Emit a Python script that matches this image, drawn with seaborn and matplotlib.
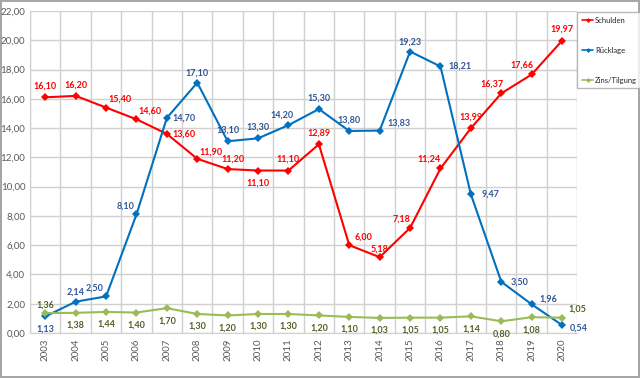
import matplotlib
matplotlib.use('Agg')
import matplotlib.pyplot as plt
import matplotlib.ticker as mticker
import seaborn as sns
import pandas as pd

years = [str(y) for y in range(2003, 2021)]
schulden = [16.10, 16.20, 15.40, 14.60, 13.60, 11.90, 11.20, 11.10, 11.10, 12.89,
            6.00, 5.18, 7.18, 11.24, 13.99, 16.37, 17.66, 19.97]
ruecklage = [1.13, 2.14, 2.50, 8.10, 14.70, 17.10, 13.10, 13.30, 14.20, 15.30,
             13.80, 13.83, 19.23, 18.21, 9.47, 3.50, 1.96, 0.54]
zins = [1.36, 1.38, 1.44, 1.40, 1.70, 1.30, 1.20, 1.30, 1.30, 1.20,
        1.10, 1.03, 1.05, 1.05, 1.14, 0.80, 1.08, 1.05]
series_names = ['Schulden', 'Rücklage', 'Zins/Tilgung']

# label placement per point (pixel offsets)
off_schulden = [(0, 8), (0, 8), (10, 6), (10, 6), (12, 0), (10, 5), (4, 7), (0, -9), (0, 8), (0, 8),
                (10, 6), (0, 6), (-6, 6), (-8, 7), (0, 8), (-7, 7), (-7, 7), (0, 8)]
off_ruecklage = [(0, -9), (0, 7), (-8, 6), (-8, 6), (12, 0), (0, 7), (0, 8), (0, 8), (-5, 7), (0, 8),
                 (0, 8), (14, 5), (0, 7), (14, 0), (14, 0), (13, 0), (12, 4), (12, -2)]
off_zins = [(0, 6), (0, -9), (0, -9), (0, -9), (0, -9), (0, -9), (0, -9), (0, -9), (0, -9), (0, -9),
            (0, -9), (0, -9), (0, -9), (0, -9), (0, -9), (0, -9), (0, -9), (11, 6)]

df = pd.DataFrame({
    'Jahr': years * 3,
    'Wert': schulden + ruecklage + zins,
    'Reihe': [series_names[0]] * 18 + [series_names[1]] * 18 + [series_names[2]] * 18,
})

sns.set_style('white')
plt.rcParams['font.family'] = ['Lato', 'DejaVu Sans']

line_colors = {'Schulden': '#FF0000', 'Rücklage': '#0070C0', 'Zins/Tilgung': '#9BBB59'}
label_colors = {'Schulden': '#FF0000', 'Rücklage': '#2F5597', 'Zins/Tilgung': '#4F6228'}

fig = plt.figure(figsize=(6.4, 3.78), dpi=100)
fig.patch.set_edgecolor('#A6A6A6')
fig.patch.set_linewidth(1.5)
ax = fig.add_axes([0.047, 0.119, 0.855, 0.852])

sns.lineplot(data=df, x='Jahr', y='Wert', hue='Reihe', palette=line_colors,
             marker='D', markersize=4, markeredgewidth=0, linewidth=1.5,
             sort=False, legend=False, ax=ax)

for name, vals, offs in [('Zins/Tilgung', zins, off_zins),
                         ('Rücklage', ruecklage, off_ruecklage),
                         ('Schulden', schulden, off_schulden)]:
    for i, (v, o) in enumerate(zip(vals, offs)):
        ax.annotate(f'{v:.2f}'.replace('.', ','), (i, v), xytext=o,
                    textcoords='offset points', ha='center', va='center',
                    fontsize=6.5, fontweight='bold', color=label_colors[name])

ax.set_xlim(-0.5, 17.5)
ax.set_ylim(0, 22)
ax.set_yticks(range(0, 23, 2))
ax.yaxis.set_major_formatter(mticker.FuncFormatter(lambda v, p: f'{v:.2f}'.replace('.', ',')))
ax.set_xticks(range(18))
ax.set_xticklabels(years, rotation=90)
ax.set_xticks([i - 0.5 for i in range(19)], minor=True)
ax.tick_params(axis='x', which='major', length=0, labelsize=7, colors='#595959', pad=4)
ax.tick_params(axis='x', which='minor', length=4, color='#D0D0D0')
ax.tick_params(axis='y', length=0, labelsize=7, colors='#595959')
ax.grid(False)
ax.grid(True, axis='y', color='#D0D0D0', linewidth=1)
ax.grid(True, axis='x', which='minor', color='#D0D0D0', linewidth=1)
ax.set_axisbelow(True)
for s in ['top', 'right']:
    ax.spines[s].set_visible(False)
ax.spines['left'].set_color('#D0D0D0')
ax.spines['bottom'].set_color('#D0D0D0')
ax.set_xlabel('')
ax.set_ylabel('')

handles = [plt.Line2D([], [], color=line_colors[n], marker='D', markersize=2.5,
                      markeredgewidth=0, linewidth=1.2) for n in series_names]
leg = fig.legend(handles, series_names, loc='upper left', bbox_to_anchor=(0.902, 0.968),
                 borderaxespad=0, fontsize=5.5, frameon=True, fancybox=False,
                 edgecolor='#A6A6A6', labelspacing=3.0, handlelength=1.5,
                 handletextpad=0.2, borderpad=0.6)
leg.get_frame().set_linewidth(1)

plt.savefig('out.png', dpi=100)
plt.close()
